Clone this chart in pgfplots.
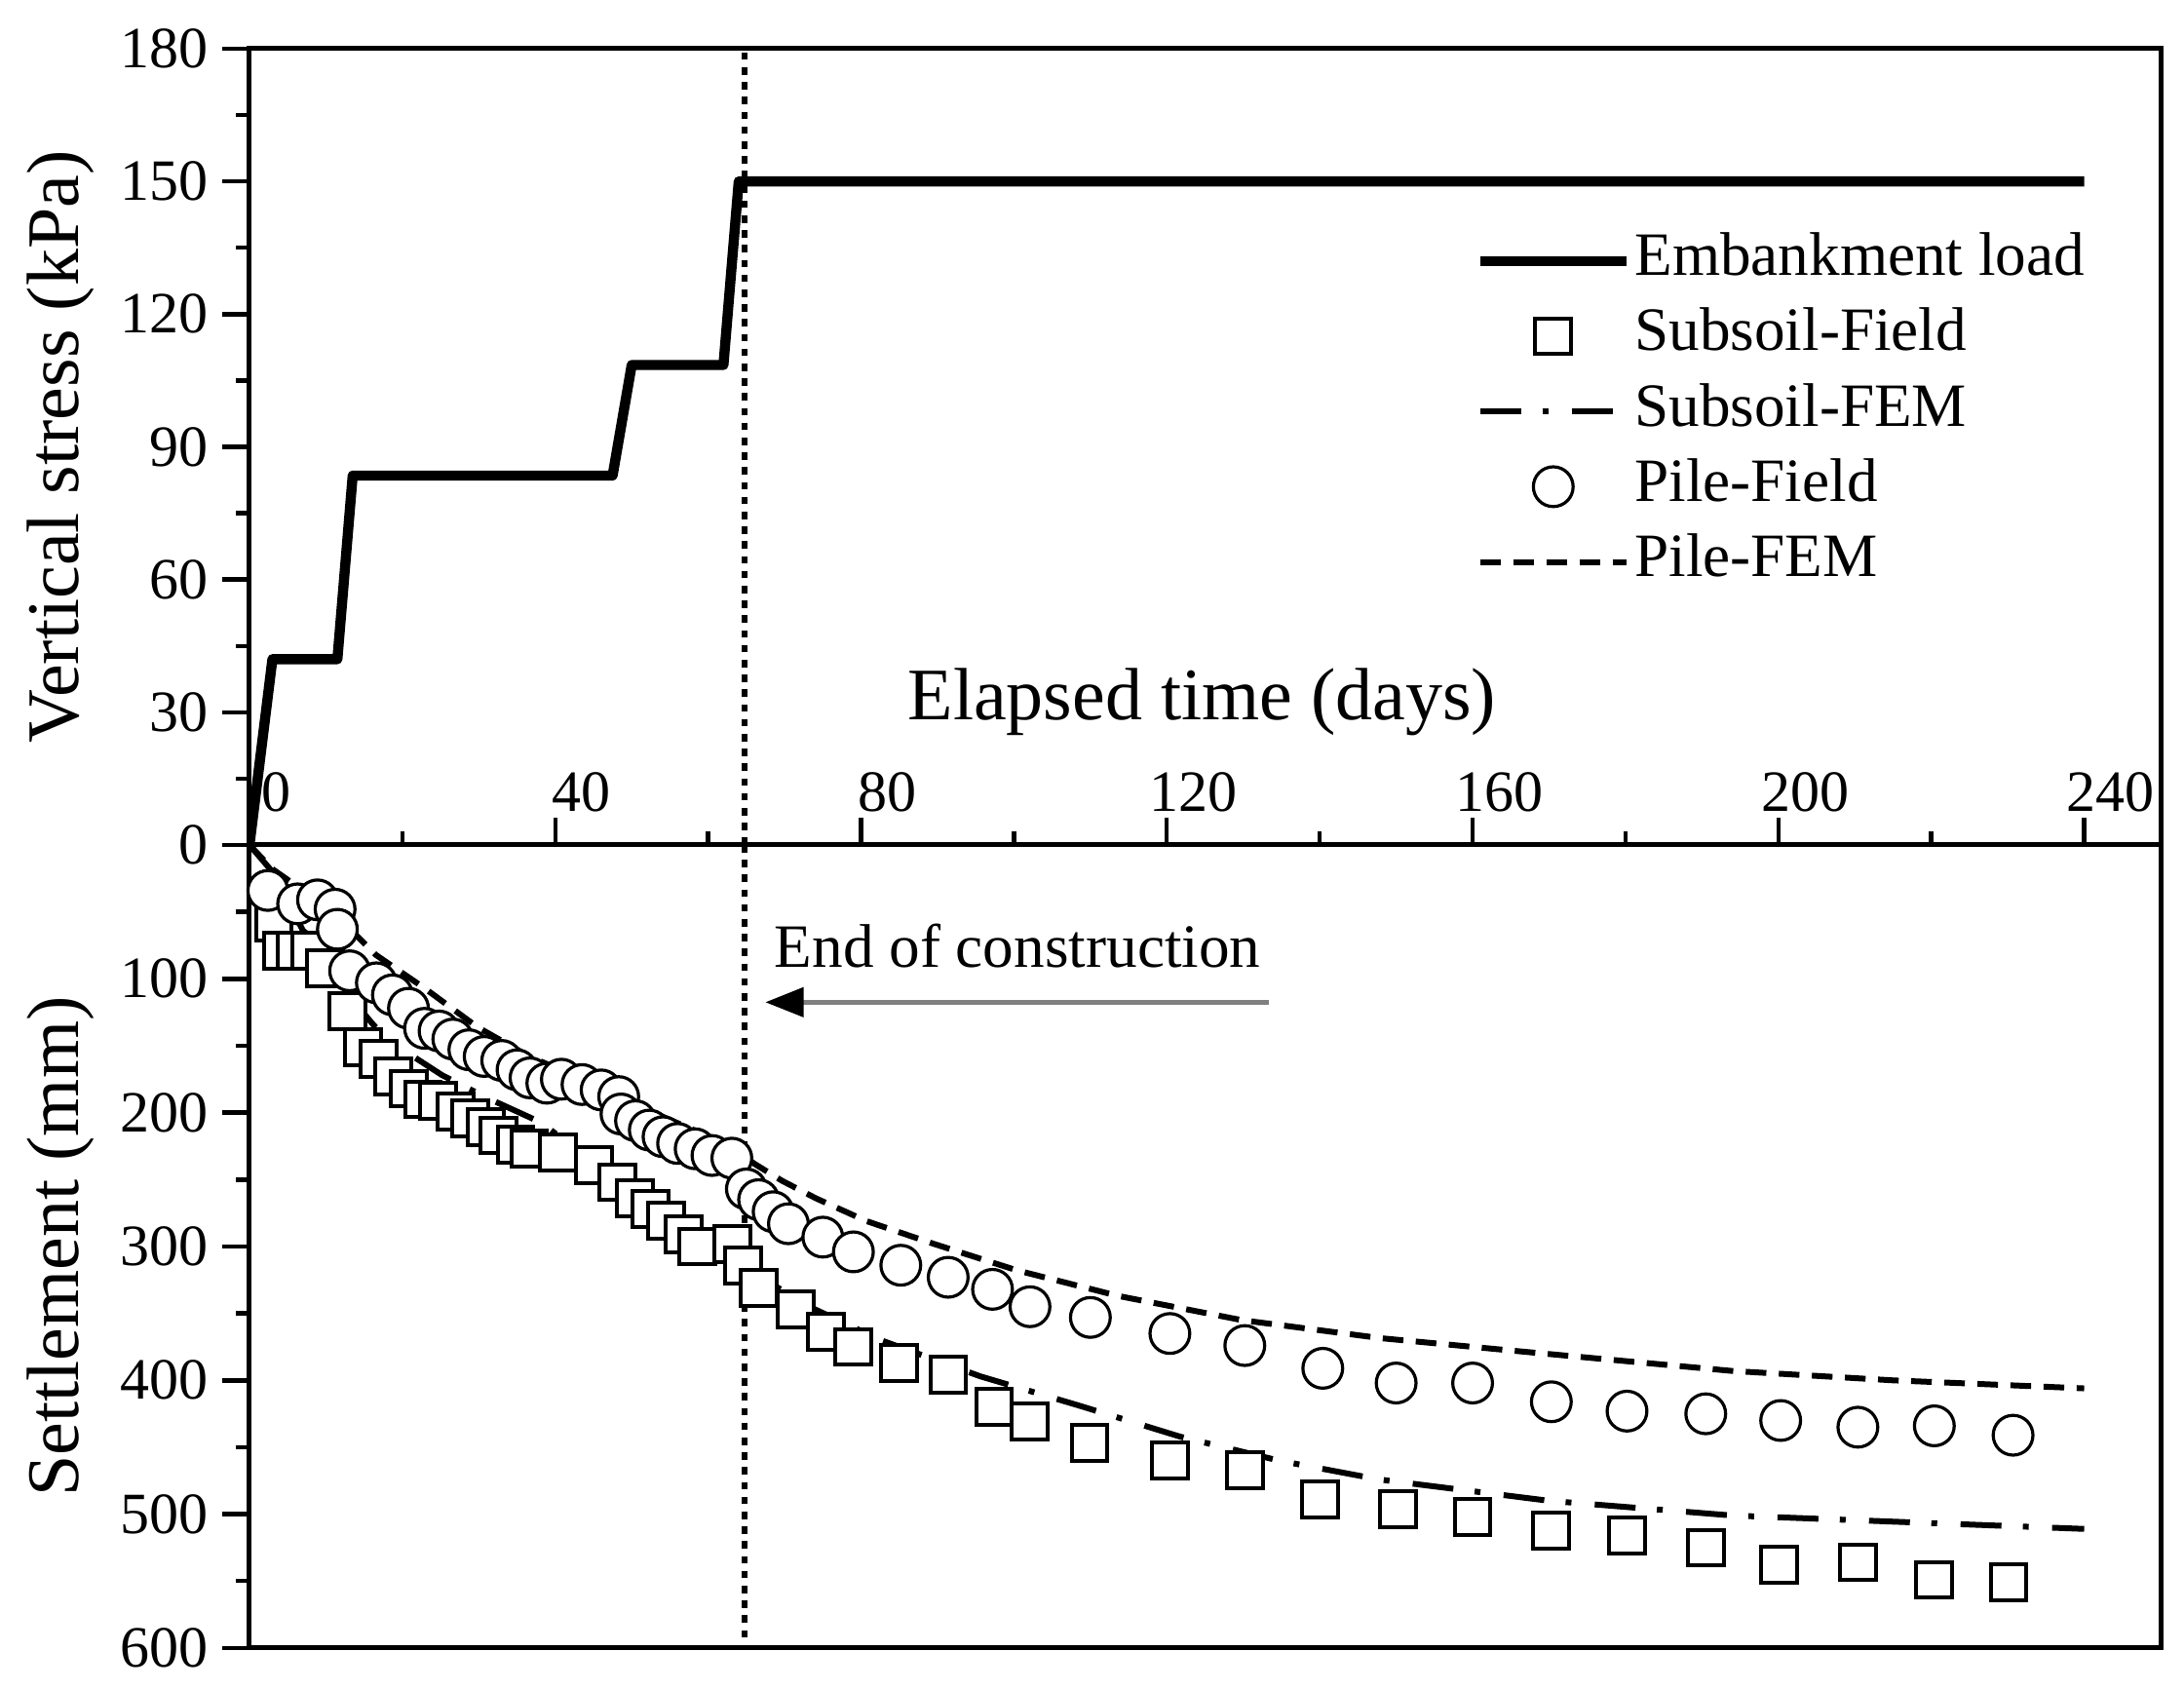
\documentclass[border=0pt]{standalone}
\usepackage{fontspec}
\setmainfont{Liberation Serif}
\usepackage{pgfplots}
\pgfplotsset{compat=1.18}
\usetikzlibrary{arrows.meta}

\newcommand{\tickfont}{\fontsize{15}{18}\selectfont}
\newcommand{\labfont}{\fontsize{19}{23}\selectfont}
\newcommand{\legfont}{\fontsize{15.8}{19}\selectfont}

\tikzset{
  embline/.style={black, line width=2.6pt, line join=round},
  sqmark/.style={only marks, mark=square*, mark size=4.6pt, mark options={fill=white, draw=black, line width=1pt, solid}},
  cimark/.style={only marks, mark=*, mark size=5.1pt, mark options={fill=white, draw=black, line width=0.8pt, solid}},
  ddline/.style={black, line width=1.5pt, dash pattern=on 10.5pt off 5.5pt on 1.5pt off 6pt},
  dline/.style={black, line width=1.5pt, dash pattern=on 5.3pt off 3.2pt},
  dotline/.style={black, line width=1.6pt, dash pattern=on 1.9pt off 1.9pt},
}

\pgfplotsset{
  common/.style={
    scale only axis, width=490.25pt,
    xmin=0, xmax=250,
    tick align=outside,
    major tick length=7pt, minor tick length=3.5pt,
    tick style={black, line width=1.1pt},
    axis line style={line width=1.25pt},
    ytick pos=left,
    /pgf/number format/assume math mode=true,
    yticklabel style={font=\tickfont},
    ylabel style={font=\labfont},
  }
}

\begin{document}
\begin{tikzpicture}
\begin{axis}[
  common,
  name=top,
  height=204.25pt,
  ymin=0, ymax=180,
  xtick=\empty,
  ytick={0,30,...,180}, minor ytick={15,45,...,165},
  ylabel={Vertical stress (kPa)},
  legend style={
    at={(axis cs:160.3,138.4)}, anchor=north west,
    draw=none, fill=none, inner sep=0pt, outer sep=0pt,
    font=\legfont,
    row sep=4.8pt, column sep=0.8pt,
    nodes={inner sep=0pt, text height=11pt, text depth=3.5pt},
  },
  legend cell align=left,
  legend image code/.code={\draw[mark repeat=2,mark phase=2,#1] plot coordinates {(0pt,0pt) (18.8pt,0pt) (37.6pt,0pt)};},
]
\addplot[dotline, forget plot] coordinates {(64.8,0) (64.8,180)};
\addplot[embline] coordinates {
(0,0) (3,42) (11.5,42) (13.5,83.5) (47.5,83.5) (50,108.5) (62,108.5) (64,150) (240,150)
};
\addlegendentry{Embankment load}
\addlegendimage{sqmark}
\addlegendentry{Subsoil-Field}
\addlegendimage{ddline}
\addlegendentry{Subsoil-FEM}
\addlegendimage{cimark}
\addlegendentry{Pile-Field}
\addlegendimage{dline}
\addlegendentry{Pile-FEM}
\node[anchor=base, font=\labfont, inner sep=0pt] at (axis cs:124.6,28.4) {Elapsed time (days)};
\end{axis}

\begin{axis}[
  common,
  name=bot,
  at={(top.south west)}, anchor=north west,
  height=206pt,
  ymin=0, ymax=600, y dir=reverse,
  xtick={0,40,...,240}, minor xtick={20,60,...,220},
  xtick pos=right, xticklabel pos=right,
  xticklabel style={font=\tickfont, xshift=6.8pt, yshift=-2pt},
  ytick={100,200,...,600}, minor ytick={50,150,...,550},
  ylabel={Settlement (mm)},
]
\addplot[dotline] coordinates {(64.8,0) (64.8,600)};
\addplot[sqmark] coordinates {
(3.2,58) (4.2,79) (6.1,79) (8.0,79) (9.9,92) (12.8,124) (14.9,151) (16.9,160) (18.8,173) (20.8,182)
(22.7,190) (24.7,191) (27.0,199) (28.9,204) (30.9,211) (32.6,217) (34.8,224) (36.6,227) (40.3,230) (45.1,239)
(48.1,252) (50.4,264) (52.5,272) (54.5,281) (56.8,291) (58.6,300) (63.2,298) (64.6,314) (66.6,331) (71.5,347)
(75.4,364) (79.0,375) (85.0,387) (91.4,396) (97.4,420) (102.1,431) (109.9,447) (120.4,460) (130.2,467) (140.0,489)
(150.2,496) (160.0,502) (170.3,512) (180.2,516) (190.5,525) (200.1,538) (210.4,536) (220.4,549) (230.1,551)
};
\addplot[ddline] coordinates {
(0,0) (3,20) (7,64) (9,73) (11.5,102) (16,133) (17.9,145) (25.2,172) (31.1,189) (38,207) (44.6,235)
(50.4,262) (58.6,301) (63.7,313) (69.5,332) (74,347) (82.6,370) (95.6,397) (108.6,419) (121.7,442)
(134.7,460) (147.7,474) (170,490) (194,501) (240,511)
};
\addplot[cimark] coordinates {
(2.4,34) (6.3,44) (8.9,41) (11.2,48) (11.5,63) (13.1,94) (16.6,103) (18.7,112) (20.8,122) (22.9,137)
(24.8,139) (26.6,145) (28.7,153) (30.7,158) (33.0,161) (35.0,168) (36.7,174) (38.9,178) (40.8,175) (43.5,179)
(46.0,183) (48.3,188) (48.6,201) (50.5,206) (52.3,213) (54.1,218) (56.0,223) (58.3,227) (60.5,232) (63.1,234)
(65.0,257) (66.6,265) (68.5,274) (70.5,283) (75.0,293) (79.0,304) (85.2,314) (91.4,323) (97.2,332) (102.1,345)
(110.0,353) (120.4,365) (130.2,374) (140.4,391) (150.0,402) (160.0,402) (170.3,416) (180.2,423) (190.5,425)
(200.3,430) (210.4,435) (220.4,434) (230.7,441)
};
\addplot[dline] coordinates {
(0,0) (3,18) (6,30) (10,48) (13.7,66) (16.5,82) (22.9,107) (29.8,136) (36.6,158) (43.5,175) (50.4,194)
(57.3,211) (63,225) (66,238) (69.7,251) (74.1,264) (80.7,281) (89.5,298) (100.5,318) (113.7,337)
(129.8,355) (148,368.5) (166.5,378.5) (194,393) (215,400) (240,406)
};
\draw[draw={rgb,255:red,128;green,128;blue,128}, line width=1.1pt, -{Triangle[length=9.8pt,width=7.5pt,color=black]}]
  (axis cs:133.4,117.5) -- (axis cs:67.5,117.5);
\node[anchor=base west, font=\legfont, inner sep=0pt] at (axis cs:68.6,91.5) {End of construction};
\end{axis}
\path (top.north west) ++(-64pt,12.5pt);
\path (bot.south east) ++(6pt,-10.5pt);
\end{tikzpicture}
\end{document}
